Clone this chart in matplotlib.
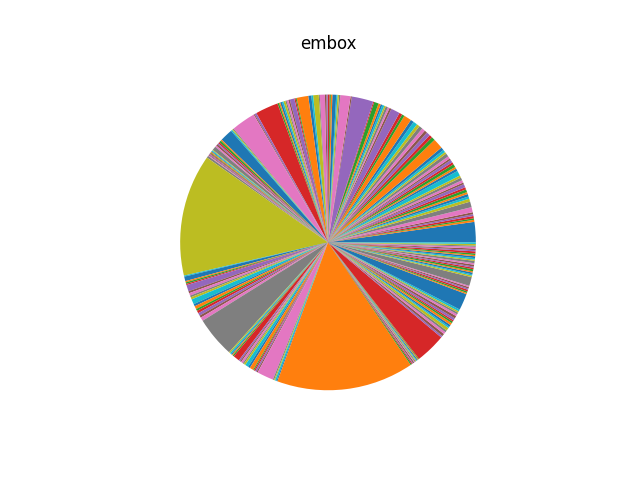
import matplotlib
matplotlib.use("Agg")
import matplotlib.pyplot as plt

title = "embox"

# slice sizes, read off the picture going counter-clockwise from 3 o'clock
# (one row = one pass through the default colour cycle)
sizes = [
    8.0, 0.8, 0.6, 0.9, 0.7, 0.8, 2.0, 2.2, 1.2, 0.9,
    1.0, 0.8, 1.1, 0.9, 1.3, 0.7, 1.0, 1.1, 0.9, 2.0,
    1.0, 0.8, 1.2, 0.9, 1.1, 0.7, 1.0, 1.3, 0.8, 1.0,
    1.2, 4.0, 1.4, 1.2, 1.5, 1.1, 1.3, 1.4, 1.2, 1.6,
    1.3, 3.0, 1.0, 1.2, 3.5, 0.8, 0.7, 0.9, 0.6, 0.8,
    0.7, 0.9, 1.8, 0.4, 8.5, 0.5, 4.0, 0.5, 0.6, 0.5,
    1.5, 0.6, 0.5, 0.7, 0.5, 0.6, 2.0, 0.4, 2.2, 0.7,
    1.2, 4.6, 0.4, 0.5, 1.8, 0.6, 0.7, 0.5, 0.8, 0.6,
    0.7, 0.5, 0.6, 9.0, 0.8, 0.4, 9.5, 0.4, 0.4, 0.5,
    5.0, 0.5, 0.8, 0.6, 0.5, 0.7, 0.6, 1.5, 0.3, 0.4,
    0.3, 0.4, 0.3, 0.3, 0.4, 0.3, 0.3, 0.8, 48.0, 0.4,
    1.8, 0.5, 0.6, 0.5, 2.5, 0.8, 1.0, 0.7, 0.9, 2.0,
    0.9, 1.2, 0.8, 1.0, 1.1, 0.9, 1.4, 16.0, 0.5, 0.6,
    0.4, 0.4, 0.5, 2.5, 0.6, 0.5, 0.8, 0.5, 0.7, 1.3,
    0.8, 1.5, 0.4, 0.5, 0.6, 0.5, 6.5, 0.5, 0.4, 0.6,
    0.4, 54.0, 0.5, 0.4, 0.3, 0.5, 0.3, 0.4, 0.3, 0.3,
    0.4, 0.3, 0.3, 12.0, 0.7, 1.0, 0.9, 0.8, 1.2, 0.6,
    0.8, 0.9, 0.7, 0.6, 0.9, 1.0, 0.8, 0.7, 0.6, 0.8,
    6.5, 0.5, 0.6, 0.7, 0.5, 0.6, 0.5, 3.5, 0.6, 0.5,
    0.7, 0.5, 0.8, 0.6, 0.5, 0.7, 0.6, 0.9, 0.5, 0.6,
    0.7, 0.5, 0.6, 0.8, 0.5, 0.6, 0.7, 0.5, 0.6, 0.6,
]

fig = plt.figure(figsize=(6.4, 4.8), dpi=100)
plt.pie(sizes)
plt.title(title)
plt.savefig("out.png")
